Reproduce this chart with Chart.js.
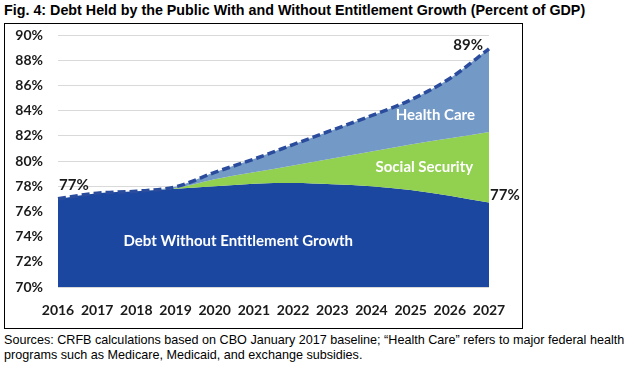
<!DOCTYPE html>
<html>
<head>
<meta charset="utf-8">
<script src="https://cdn.jsdelivr.net/npm/chart.js@4"></script>
<style>
    body { margin: 0; background: #fff; width: 636px; height: 368px; position: relative; overflow: hidden; }
    #title { position: absolute; left: 4px; top: 2px; font: bold 14.3px "Liberation Sans", Arial, sans-serif; color: #000; white-space: nowrap; }
    #box { position: absolute; left: 4px; top: 23px; width: 517px; height: 304px; border: 1px solid #000; }
    #note { position: absolute; left: 4px; top: 333px; width: 632px; font: 12.6px "Liberation Sans", Arial, sans-serif; line-height: 15px; color: #000; }
</style>
</head>
<body>
<div id="title">Fig. 4: Debt Held by the Public With and Without Entitlement Growth (Percent of GDP)</div>
<div id="box"><canvas id="debtChart" width="517" height="304"></canvas></div>
<div id="note">Sources: CRFB calculations based on CBO January 2017 baseline; “Health Care” refers to major federal health programs such as Medicare, Medicaid, and exchange subsidies.</div>
<script>
const years = ["2016", "2017", "2018", "2019", "2020", "2021", "2022", "2023", "2024", "2025", "2026", "2027"];
// debt without entitlement growth (% of GDP)
const baseDebt = [77.0, 77.45, 77.6, 77.8, 78.0, 78.2, 78.25, 78.15, 78.0, 77.7, 77.25, 76.7];
// level including social security growth
const withSocialSecurity = [77.0, 77.45, 77.6, 77.85, 78.55, 79.1, 79.65, 80.2, 80.75, 81.3, 81.8, 82.3];
// total debt incl. health care growth
const totalDebt = [77.0, 77.45, 77.6, 77.95, 79.1, 80.15, 81.3, 82.45, 83.6, 84.85, 86.55, 88.9];
const yTicks = [70, 72, 74, 76, 78, 80, 82, 84, 86, 88, 90];

const labelFont = "Lato, 'Open Sans', sans-serif";

// text labels placed with the chart's own scales
const areaLabels = [
    { text: "Health Care", x: 9.63, y: 83.6 },
    { text: "Social Security", x: 9.35, y: 79.5 },
    { text: "Debt Without Entitlement Growth", x: 4.6, y: 73.6 }
];

const chartText = {
    id: "chartText",
    afterDatasetsDraw(chart) {
        const { ctx, scales } = chart;
        const xs = scales.x, ys = scales.y;
        ctx.save();
        ctx.font = "bold 15px " + labelFont;
        ctx.fillStyle = "#ffffff";
        ctx.textAlign = "center";
        ctx.textBaseline = "middle";
        areaLabels.forEach(l => {
            ctx.fillText(l.text, xs.getPixelForValue(l.x), ys.getPixelForValue(l.y));
        });

        const last = years.length - 1;
        ctx.fillStyle = "#1a1a1a";
        ctx.textAlign = "left";
        ctx.fillText(Math.round(totalDebt[0]) + "%", xs.getPixelForValue(0) + 1, ys.getPixelForValue(totalDebt[0]) - 14);
        ctx.fillText(Math.round(baseDebt[last]) + "%", xs.getPixelForValue(last) + 1, ys.getPixelForValue(baseDebt[last]) - 7);
        ctx.textAlign = "right";
        ctx.fillText(Math.round(totalDebt[last]) + "%", xs.getPixelForValue(last) - 6, ys.getPixelForValue(totalDebt[last]) - 4);
        ctx.restore();
    }
};

new Chart(document.getElementById("debtChart"), {
    type: "line",
    data: {
        labels: years,
        datasets: [{
            label: "Health Care",
            data: totalDebt,
            fill: "+1",
            backgroundColor: "#7399c6",
            borderColor: "#2b4c9c",
            borderWidth: 3.5,
            borderDash: [8, 4],
            pointRadius: 0,
            cubicInterpolationMode: "monotone"
        },
        {
            label: "Social Security",
            data: withSocialSecurity,
            fill: "+1",
            backgroundColor: "#92d050",
            borderWidth: 0,
            pointRadius: 0,
            cubicInterpolationMode: "monotone"
        },
        {
            label: "Debt Without Entitlement Growth",
            data: baseDebt,
            fill: "start",
            backgroundColor: "#1b47a0",
            borderColor: "#1b47a0",
            borderWidth: 0,
            pointRadius: 0,
            cubicInterpolationMode: "monotone"
        }]
    },
    options: {
        responsive: false,
        animation: false,
        devicePixelRatio: 1,
        layout: { padding: { top: 0, right: 33, left: 0, bottom: 0 } },
        plugins: {
            legend: { display: false },
            tooltip: { enabled: false }
        },
        scales: {
            x: {
                type: "category",
                offset: false,
                grid: { display: false, drawTicks: false },
                border: { display: false },
                ticks: {
                    color: "#1a1a1a",
                    font: { family: labelFont, size: 14, weight: "bold" },
                    padding: 15,
                    maxRotation: 0,
                    autoSkip: false
                },
                afterFit(scale) { scale.height = 41; }
            },
            y: {
                min: 70,
                max: 90,
                afterBuildTicks(scale) { scale.ticks = yTicks.map(v => ({ value: v })); },
                grid: { color: "#d9d9d9", lineWidth: 1, drawTicks: false },
                border: { display: false },
                ticks: {
                    color: "#1a1a1a",
                    font: { family: labelFont, size: 14, weight: "bold" },
                    padding: 15,
                    callback: v => v + "%"
                },
                afterFit(scale) {
                    // chart.js pads the top with a large label gap; pin it so 90% sits where the original has it
                    scale.width = 53;
                    scale.paddingTop = 11;
                    scale.paddingBottom = 0;
                }
            }
        }
    },
    plugins: [chartText]
});
</script>
</body>
</html>
